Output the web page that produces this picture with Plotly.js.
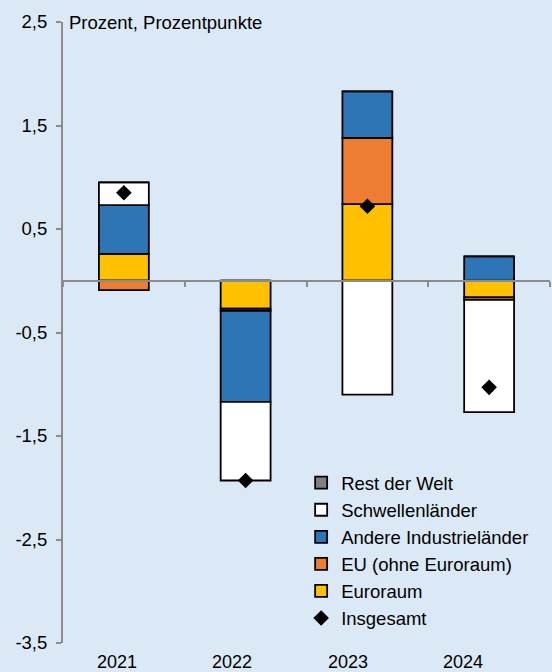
<!DOCTYPE html>
<html>
<head>
<meta charset="utf-8">
<script src="https://cdn.plot.ly/plotly-3.0.1.min.js"></script>
<style>
html,body{margin:0;padding:0;background:#DBE8F5;}
#chart{width:552px;height:672px;}
</style>
</head>
<body>
<div id="chart"></div>
<script>
// ---- data ----
const categories = ['2021', '2022', '2023', '2024'];
const euroraum   = [0.26, -0.27, 0.74, -0.16];
const euOhne     = [-0.09, -0.02, 0.64, -0.025];
const andere     = [0.47, -0.88, 0.45, 0.235];
const schwellen  = [0.22, -0.76, -1.10, -1.085];
const restWelt   = [0, 0, 0, 0];
const insgesamt  = [0.85, -1.93, 0.72, -1.03];

const yTickVals   = [2.5, 1.5, 0.5, -0.5, -1.5, -2.5, -3.5];
const yTickLabels = ['2,5', '1,5', '0,5', '-0,5', '-1,5', '-2,5', '-3,5'];
const yTitle = 'Prozent, Prozentpunkte';

// ---- style ----
const FONT = 'Liberation Sans, Arial, sans-serif';
const BG = '#DBE8F5';
const AXIS = '#8C8C8C';
const border = {color: '#000000', width: 1.8};
const FS = 18.5;

function barTrace(name, values, color, rank) {
  return {
    type: 'bar', name: name, x: categories, y: values,
    marker: {color: color, line: border},
    legendrank: rank, hoverinfo: 'skip'
  };
}

const traces = [
  barTrace('Euroraum', euroraum, '#FFC000', 5),
  barTrace('EU (ohne Euroraum)', euOhne, '#ED7D31', 4),
  barTrace('Andere Industrieländer', andere, '#2E75B6', 3),
  barTrace('Schwellenländer', schwellen, '#FFFFFF', 2),
  barTrace('Rest der Welt', restWelt, '#808080', 1),
  {
    type: 'scatter', mode: 'markers', name: 'Insgesamt',
    x: categories, y: insgesamt,
    marker: {symbol: 'diamond', size: 12, color: '#000000'},
    legendrank: 6, hoverinfo: 'skip'
  }
];

const yMin = -3.5, yMax = 2.5;

const annotations = categories.map((c, i) => ({
  text: c, xref: 'x', yref: 'paper',
  x: i * 0.947 - 0.056, y: 0, yanchor: 'top', xanchor: 'center',
  yshift: -7, showarrow: false,
  font: {family: FONT, size: 18, color: '#000'}
}));
annotations.push({
  text: yTitle, xref: 'paper', yref: 'paper', x: 0, y: 1,
  xanchor: 'left', yanchor: 'middle', xshift: 4, showarrow: false,
  font: {family: FONT, size: FS, color: '#000'}
});

const layout = {
  width: 552, height: 672,
  margin: {l: 63, r: 2, t: 22, b: 29, pad: 0},
  paper_bgcolor: BG, plot_bgcolor: BG,
  font: {family: FONT, size: FS, color: '#000'},
  barmode: 'relative', bargap: 0.59,
  showlegend: true,
  legend: {
    x: 0.489, y: 0.288, xanchor: 'left', yanchor: 'top',
    bgcolor: 'rgba(0,0,0,0)', traceorder: 'normal',
    font: {family: FONT, size: FS, color: '#000'}
  },
  xaxis: {
    type: 'category', range: [-0.5, 3.5],
    anchor: 'free', position: (0 - yMin) / (yMax - yMin),
    showline: true, linecolor: AXIS, linewidth: 2,
    ticks: 'outside', tickson: 'boundaries', ticklen: 5, tickcolor: AXIS, tickwidth: 2,
    showticklabels: false, showgrid: false, zeroline: false, fixedrange: true
  },
  yaxis: {
    range: [yMin, yMax], tickvals: yTickVals, ticktext: yTickLabels,
    showline: true, linecolor: AXIS, linewidth: 2,
    ticks: 'outside', ticklen: 5, tickcolor: AXIS, tickwidth: 2,
    showgrid: false, zeroline: false, ticklabelstandoff: 5,
    tickfont: {family: FONT, size: FS, color: '#000'}, fixedrange: true
  },
  annotations: annotations
};

Plotly.newPlot('chart', traces, layout, {displayModeBar: false, staticPlot: true});
</script>
</body>
</html>
